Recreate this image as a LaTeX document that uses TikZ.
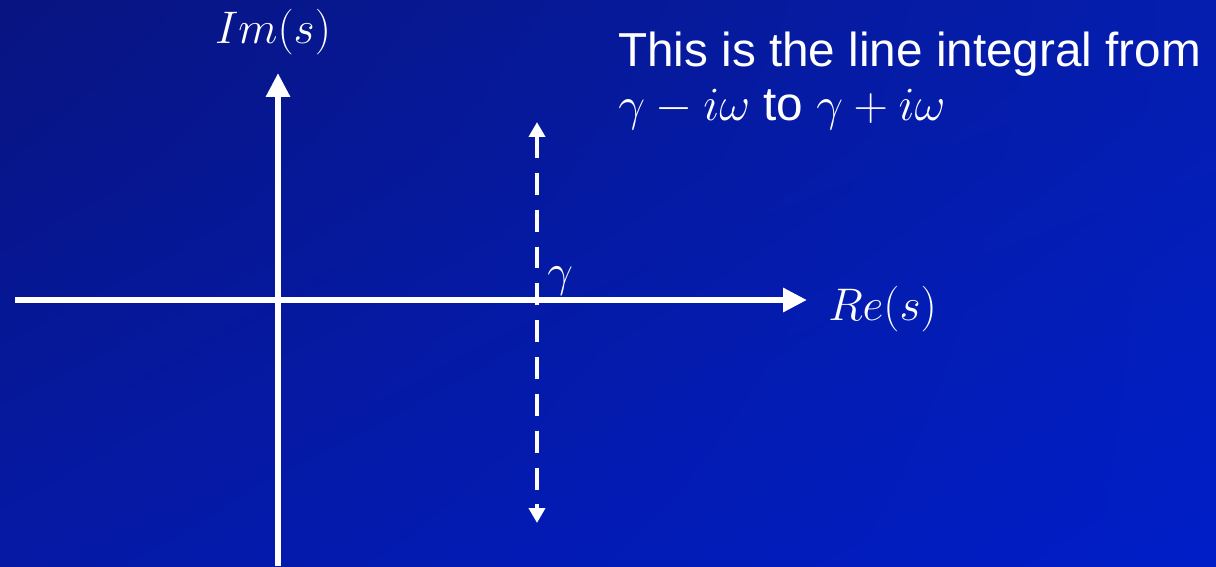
\RequirePackage{fix-cm}
\documentclass[tikz,border=0pt]{standalone}
\usepackage{fontspec}
\setmainfont{Liberation Sans}
\usetikzlibrary{arrows.meta, positioning, shadings}

\definecolor{bgdark}{RGB}{8,20,128}
\definecolor{bgtop}{RGB}{5,30,175}
\definecolor{bgbottom}{RGB}{5,25,165}
\definecolor{bglight}{RGB}{0,30,200}

\tikzset{
  axisline/.style={line width=4.3pt, white, -{Triangle[length=17pt, width=16.3pt]}},
  contourline/.style={line width=3.2pt, white, dash pattern=on 15.6pt off 10.6pt,
    {Triangle[length=10.6pt, width=11.3pt]}-{Triangle[length=10.6pt, width=11.3pt]}},
  axislabel/.style={text=white, inner sep=0pt, font=\fontsize{32.5}{38}\selectfont},
  notetext/.style={text=white, inner sep=0pt, font=\fontsize{33.9}{40}\selectfont},
}

\begin{document}
\begin{tikzpicture}[x=0.025cm, y=-0.025cm]
  % Background
  \shade[upper left=bgdark, upper right=bgtop, lower left=bgbottom, lower right=bglight]
    (0,0) rectangle (1216,566);
  \useasboundingbox (0,0) rectangle (1216,566);

  % Axis end points
  \coordinate (ReStart) at (15,300);
  \coordinate (ReEnd) at (807,300);
  \coordinate (ImStart) at (278,566);
  \coordinate (ImEnd) at (278,73);

  % Bromwich contour end points
  \coordinate (Low) at (537,523);
  \coordinate (High) at (537,122);

  % Axes
  \draw[axisline] (ReStart) -- (ReEnd);
  \draw[axisline] (ImStart) -- (ImEnd);

  % The line integral path
  \draw[contourline] (High) -- (Low);

  % Labels
  \node[axislabel, anchor=base] (ImLabel) at (273,43) {$Im(s)$};
  \node[axislabel, anchor=base west] (ReLabel) at (828,320) {$Re(s)$};
  \node[axislabel, anchor=base west] (GammaLabel) at (547,286) {$\gamma$};

  % Note
  \node[notetext, anchor=base west] (NoteTop) at (618,66) {This is the line integral from};
  \node[notetext, anchor=base west] (NoteBottom) at (618,120) {$\gamma - i\omega$ to $\gamma + i\omega$};
\end{tikzpicture}
\end{document}
